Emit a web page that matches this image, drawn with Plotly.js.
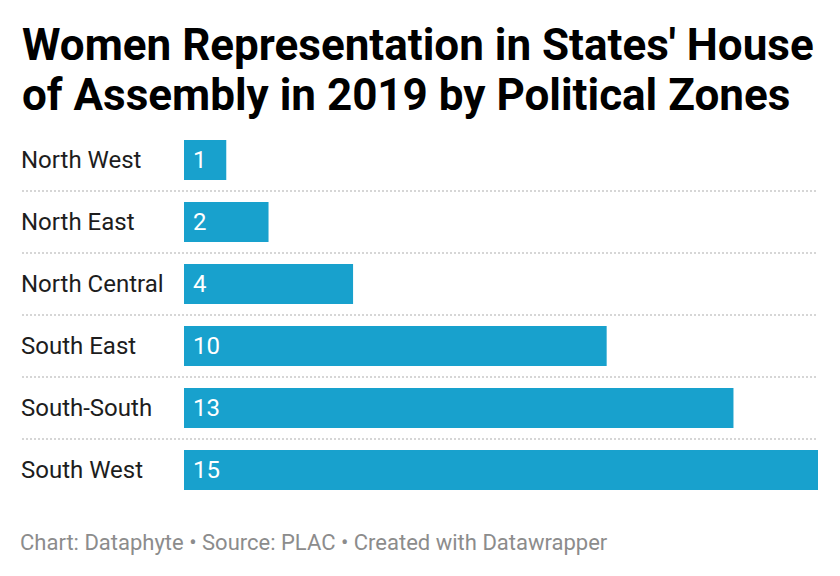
<!DOCTYPE html>
<html>
<head>
<meta charset="utf-8">
<script src="https://cdn.plot.ly/plotly-3.0.1.min.js"></script>
<style>
  html, body { margin: 0; padding: 0; background: #ffffff; }
  #chart { width: 840px; height: 576px; }
</style>
</head>
<body>
<div id="chart"></div>
<script>
const zones = ["North West", "North East", "North Central", "South East", "South-South", "South West"];
const women = [1, 2, 4, 10, 13, 15];
const titleLines = ["Women Representation in States' House", "of Assembly in 2019 by Political Zones"];
const footerText = "Chart: Dataphyte • Source: PLAC • Created with Datawrapper";

const W = 840, H = 576;
const plotLeft = 184, plotRight = 818, plotTop = 129, plotBottom = 501;
const px2x = (px) => (px - plotLeft) / (plotRight - plotLeft);
const px2y = (py) => (plotBottom - py) / (plotBottom - plotTop);

const barColor = "#18a1cd";
const font = "Roboto, 'Noto Sans', sans-serif";

const trace = {
  type: "bar",
  orientation: "h",
  y: zones,
  x: women,
  marker: { color: barColor, line: { width: 0 } },
  hoverinfo: "skip"
};

const annotations = [];
zones.forEach((z, i) => {
  annotations.push({
    xref: "paper", yref: "y", x: px2x(19), y: z,
    xanchor: "left", yanchor: "middle",
    text: z, showarrow: false,
    font: { family: font, size: 24, color: "#1d1d1d" }
  });
  annotations.push({
    xref: "x", yref: "y", x: 0, y: z, xshift: 7,
    xanchor: "left", yanchor: "middle",
    text: String(women[i]), showarrow: false,
    font: { family: font, size: 24, color: "#ffffff" }
  });
});
const titleMid = [45, 95];
titleLines.forEach((t, i) => {
  annotations.push({
    xref: "paper", yref: "paper", x: px2x(20), y: px2y(titleMid[i]),
    xanchor: "left", yanchor: "middle",
    text: "<b>" + t + "</b>", showarrow: false,
    font: { family: font, size: 44, color: "#000000" }
  });
});
annotations.push({
  xref: "paper", yref: "paper",
  x: px2x(18), y: px2y(542),
  xanchor: "left", yanchor: "middle",
  text: footerText, showarrow: false,
  font: { family: font, size: 22, color: "#8c8c8c" }
});

const shapes = [];
for (let i = 0; i < zones.length - 1; i++) {
  shapes.push({
    type: "line", xref: "paper", yref: "y",
    x0: px2x(22), x1: 1, y0: i + 0.5, y1: i + 0.5,
    line: { color: "#d6d6d6", width: 2, dash: "2px,2px" },
    layer: "below"
  });
}

const layout = {
  width: W, height: H,
  paper_bgcolor: "#ffffff", plot_bgcolor: "#ffffff",
  margin: { l: plotLeft, r: W - plotRight, t: plotTop, b: H - plotBottom, pad: 0 },
  xaxis: { range: [0, 15], visible: false, fixedrange: true },
  yaxis: {
    type: "category", range: [zones.length - 0.5, -0.5],
    showticklabels: false, showgrid: false, zeroline: false, showline: false, ticks: "",
    fixedrange: true
  },
  bargap: 1 - 40 / 62,
  showlegend: false,
  annotations: annotations,
  shapes: shapes
};

Plotly.newPlot("chart", [trace], layout, { displayModeBar: false, staticPlot: true });
</script>
</body>
</html>
